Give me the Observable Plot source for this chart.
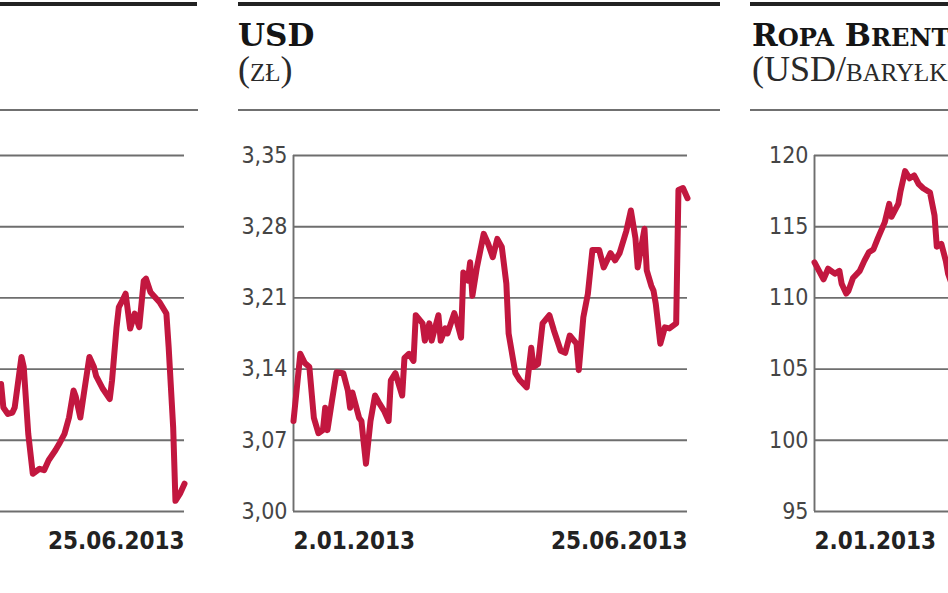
<!DOCTYPE html>
<html>
<head>
<meta charset="utf-8">
<script src="https://cdn.jsdelivr.net/npm/d3@7"></script>
<script src="https://cdn.jsdelivr.net/npm/@observablehq/plot@0.6"></script>
<style>
  html, body { margin: 0; padding: 0; background: #fff; }
  body { width: 948px; height: 593px; overflow: hidden; position: relative; }
  .rule-top { position: absolute; top: 2px; height: 4px; background: #222; }
  .rule-sub { position: absolute; top: 109px; height: 2px; background: #707070; }
  .title { position: absolute; top: 20px; font-family: "DejaVu Serif", serif; font-weight: bold; font-size: 31px; line-height: 31px; color: #151515; white-space: nowrap; }
  .title .sm { font-size: 0.78em; }
  .subtitle { position: absolute; top: 51px; font-family: "Liberation Serif", "DejaVu Serif", serif; font-size: 36px; line-height: 36px; color: #2a2a2a; white-space: nowrap; font-variant: small-caps; }
</style>
</head>
<body>
<script>
// ---------- data ----------
const dateDomain = ["2013-01-02", "2013-06-25"];
const dateLabels = ["2.01.2013", "25.06.2013"];

// USD (zł)
const usdDates = ["2013-01-02","2013-01-05","2013-01-07","2013-01-09","2013-01-11","2013-01-13","2013-01-15","2013-01-16","2013-01-17","2013-01-19","2013-01-21","2013-01-24","2013-01-26","2013-01-27","2013-01-28","2013-01-31","2013-02-01","2013-02-03","2013-02-05","2013-02-07","2013-02-09","2013-02-11","2013-02-13","2013-02-14","2013-02-16","2013-02-19","2013-02-20","2013-02-22","2013-02-24","2013-02-25","2013-02-28","2013-03-01","2013-03-03","2013-03-04","2013-03-07","2013-03-08","2013-03-10","2013-03-11","2013-03-14","2013-03-15","2013-03-17","2013-03-18","2013-03-20","2013-03-21","2013-03-22","2013-03-24","2013-03-27","2013-03-29","2013-03-31","2013-04-02","2013-04-04","2013-04-06","2013-04-07","2013-04-10","2013-04-12","2013-04-15","2013-04-17","2013-04-18","2013-04-20","2013-04-22","2013-04-25","2013-04-27","2013-04-30","2013-05-02","2013-05-04","2013-05-07","2013-05-08","2013-05-10","2013-05-12","2013-05-14","2013-05-17","2013-05-19","2013-05-22","2013-05-24","2013-05-26","2013-05-29","2013-05-31","2013-06-02","2013-06-03","2013-06-06","2013-06-07","2013-06-09","2013-06-10","2013-06-11","2013-06-13","2013-06-15","2013-06-17","2013-06-20","2013-06-21","2013-06-23","2013-06-25"];
const usdValues = [3.089,3.155,3.146,3.142,3.092,3.077,3.080,3.102,3.080,3.109,3.137,3.136,3.119,3.102,3.117,3.092,3.089,3.047,3.089,3.114,3.106,3.099,3.089,3.129,3.136,3.114,3.151,3.155,3.148,3.193,3.185,3.168,3.185,3.168,3.193,3.168,3.180,3.175,3.195,3.188,3.171,3.235,3.227,3.245,3.212,3.240,3.273,3.263,3.250,3.268,3.260,3.224,3.175,3.136,3.129,3.122,3.161,3.142,3.145,3.185,3.193,3.178,3.158,3.156,3.173,3.165,3.139,3.191,3.214,3.257,3.257,3.240,3.254,3.247,3.254,3.276,3.296,3.269,3.240,3.278,3.237,3.222,3.217,3.204,3.165,3.181,3.180,3.185,3.316,3.318,3.308];
const usdTicks = [3.00, 3.07, 3.14, 3.21, 3.28, 3.35];

// Ropa Brent (USD/baryłka) - visible part
const brentDates = ["2013-01-02","2013-01-04","2013-01-06","2013-01-08","2013-01-11","2013-01-13","2013-01-14","2013-01-16","2013-01-17","2013-01-19","2013-01-22","2013-01-24","2013-01-26","2013-01-28","2013-01-30","2013-02-02","2013-02-04","2013-02-05","2013-02-08","2013-02-09","2013-02-11","2013-02-13","2013-02-15","2013-02-17","2013-02-19","2013-02-22","2013-02-24","2013-02-25","2013-02-27","2013-03-01","2013-03-02","2013-03-04"];
const brentValues = [112.5,111.9,111.3,112.05,111.7,111.9,111.0,110.3,110.5,111.4,111.9,112.6,113.2,113.4,114.2,115.3,116.6,115.7,116.6,117.5,118.9,118.4,118.6,118.0,117.7,117.4,115.8,113.6,113.8,112.6,111.7,110.8];
const brentTicks = [95, 100, 105, 110, 115, 120];

// left (cut-off) panel - visible part
const leftDates = ["2013-04-05","2013-04-06","2013-04-08","2013-04-10","2013-04-11","2013-04-14","2013-04-15","2013-04-17","2013-04-19","2013-04-22","2013-04-24","2013-04-26","2013-04-29","2013-05-01","2013-05-03","2013-05-05","2013-05-07","2013-05-08","2013-05-10","2013-05-12","2013-05-14","2013-05-16","2013-05-17","2013-05-20","2013-05-23","2013-05-24","2013-05-26","2013-05-27","2013-05-29","2013-05-30","2013-06-01","2013-06-03","2013-06-05","2013-06-07","2013-06-08","2013-06-10","2013-06-12","2013-06-14","2013-06-17","2013-06-18","2013-06-20","2013-06-21","2013-06-23","2013-06-25"];
const leftValues = [2379,2346,2337,2339,2346,2417,2403,2309,2253,2260,2258,2272,2286,2297,2309,2332,2370,2361,2332,2375,2417,2403,2390,2372,2358,2384,2459,2487,2499,2506,2457,2478,2459,2524,2527,2508,2501,2494,2478,2431,2318,2215,2225,2239];
const leftTicks = [2200, 2300, 2400, 2500, 2600, 2700];

// ---------- drawing ----------
const LINE = "#c2173f";
const GRID = "#6e6e6e";
const labelFont = '"DejaVu Sans Condensed", "Liberation Sans Narrow", "Roboto Condensed", "DejaVu Sans", sans-serif';

function panel(dates, values, ticks, fmt, left) {
  const data = dates.map((d, i) => ({date: new Date(d), value: values[i]}));
  const dom = dateDomain.map(d => new Date(d));
  const chart = Plot.plot({
    width: 482, height: 440,
    marginLeft: 55, marginRight: 33, marginTop: 25, marginBottom: 59,
    x: {type: "utc", domain: dom, axis: null},
    y: {domain: [ticks[0], ticks[ticks.length - 1]], axis: null},
    style: {fontFamily: labelFont, background: "transparent", overflow: "visible"},
    marks: [
      Plot.ruleY(ticks, {stroke: GRID, strokeWidth: 1.9}),
      Plot.ruleX([dom[0]], {stroke: GRID, strokeWidth: 1.9}),
      Plot.axisY({ticks, label: null, tickSize: 0, tickPadding: 6, tickFormat: fmt, fontSize: 23, fill: "#454545"}),
      Plot.line(data, {x: "date", y: "value", stroke: LINE, strokeWidth: 6, strokeLinejoin: "round", strokeLinecap: "round"}),
      Plot.text([dom[0]], {x: d => d, text: () => dateLabels[0], frameAnchor: "bottom", textAnchor: "start", lineAnchor: "middle", dy: 30, fontSize: 24, fontWeight: "bold", fill: "#222"}),
      Plot.text([dom[1]], {x: d => d, text: () => dateLabels[1], frameAnchor: "bottom", textAnchor: "end", lineAnchor: "middle", dy: 30, fontSize: 24, fontWeight: "bold", fill: "#222"})
    ]
  });
  chart.style.position = "absolute";
  chart.style.left = left + "px";
  chart.style.top = "130px";
  document.body.appendChild(chart);
}

function div(cls, left, width, html) {
  const el = document.createElement("div");
  el.className = cls;
  el.style.left = left + "px";
  if (width != null) el.style.width = width + "px";
  if (html != null) el.innerHTML = html;
  document.body.appendChild(el);
}

// rules
div("rule-top", 0, 197);
div("rule-sub", 0, 198);
div("rule-top", 238, 482);
div("rule-sub", 238, 482);
div("rule-top", 750, 198);
div("rule-sub", 750, 198);

// titles
div("title", 238, null, "USD");
div("subtitle", 238, null, "(zł)");
div("title", 752, null, 'R<span class="sm">OPA</span> B<span class="sm">RENT</span>');
div("subtitle", 752, null, "(USD/baryłka)");

const comma2 = d => d.toFixed(2).replace(".", ",");
panel(leftDates, leftValues, leftTicks, d => String(d), -265);
panel(usdDates, usdValues, usdTicks, comma2, 238);
panel(brentDates, brentValues, brentTicks, d => String(d), 759);
</script>
</body>
</html>
